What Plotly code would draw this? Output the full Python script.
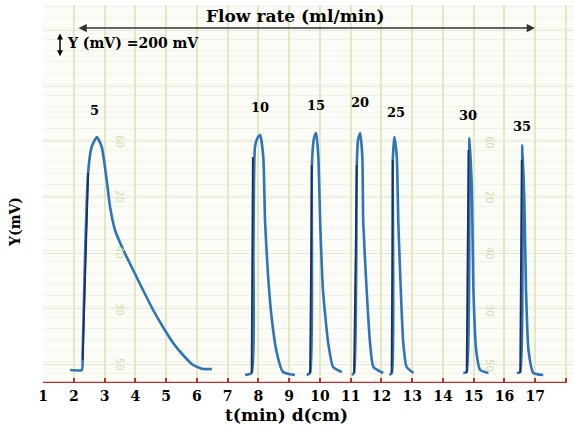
import plotly.graph_objects as go

# time axis (min) / chart distance (cm)
x_ticks = list(range(1, 19))

t_5 = [1.88, 2.26, 2.29, 2.37, 2.46, 2.58, 2.75, 2.91, 3.07, 3.18, 3.34, 3.61,
       3.93, 4.25, 4.58, 4.90, 5.23, 5.55, 5.88, 6.20, 6.49]
y_5 = [27, 27, 180, 1080, 1782, 2034, 2124, 2034, 1737, 1494, 1287, 1107,
       927, 747, 567, 414, 270, 162, 72, 36, 36]

t_10 = [7.57, 7.78, 7.84, 7.89, 7.99, 8.06, 8.16, 8.22, 8.31, 8.43, 8.60, 8.80, 9.19]
y_10 = [-18, 0, 1107, 2034, 2124, 2142, 1944, 1350, 900, 504, 180, 9, -18]

t_15 = [9.57, 9.68, 9.74, 9.81, 9.88, 9.95, 10.01, 10.10, 10.27, 10.43, 10.71]
y_15 = [-18, 0, 1872, 2115, 2160, 1944, 1350, 747, 270, 54, 9]

t_20 = [11.04, 11.11, 11.20, 11.24, 11.31, 11.38, 11.41, 11.52, 11.63, 11.74, 12.06]
y_20 = [-18, 0, 1872, 2097, 2160, 1944, 1350, 747, 270, 54, 0]

t_25 = [12.26, 12.34, 12.37, 12.42, 12.50, 12.55, 12.63, 12.71, 12.82, 13.04]
y_25 = [-18, 0, 1917, 2124, 1944, 1350, 747, 270, 54, 0]

t_30 = [14.66, 14.77, 14.86, 14.94, 14.99, 15.08, 15.21, 15.48]
y_30 = [0, 9, 2115, 1647, 747, 207, 27, 0]

t_35 = [16.40, 16.51, 16.58, 16.65, 16.70, 16.78, 16.94, 17.26]
y_35 = [0, 9, 2052, 1494, 747, 207, 0, -18]

# dark pen strokes on the rising edges
edge_t = [2.29, 2.47, None, 7.78, 7.82, None, 9.68, 9.74, None, 11.11, 11.20, None,
          12.33, 12.37, None, 14.77, 14.83, None, 16.51, 16.56]
edge_y = [117, 1800, None, 0, 1944, None, 0, 1872, None, 0, 1872, None,
          0, 1917, None, 0, 2007, None, 0, 1917]

# flow rate labels (ml/min) above each peak
flow_rates = ["5", "10", "15", "20", "25", "30", "35"]
label_t = [2.69, 8.05, 9.87, 11.31, 12.48, 14.82, 16.57]
label_y = [2367, 2394, 2412, 2439, 2349, 2322, 2223]

# faint printed numbers on the recorder paper
paper_marks = ["60", "20", "40", "30", "50"]
paper_mark_y = [2079, 1584, 1080, 567, 72]
paper_mark_t = [3.50, 15.53]

FONT = "DejaVu Serif"
BLUE = "#2f74b8"
NAVY = "#1b2f5e"
RED = "#c0302a"

fig = go.Figure()

peaks = [(t_5, y_5), (t_10, y_10), (t_15, y_15), (t_20, y_20),
         (t_25, y_25), (t_30, y_30), (t_35, y_35)]
for t, y in peaks:
    fig.add_trace(go.Scatter(x=t, y=y, mode="lines",
                             line=dict(color=BLUE, width=2.6, shape="spline", smoothing=0.5),
                             hoverinfo="skip"))

fig.add_trace(go.Scatter(x=edge_t, y=edge_y, mode="lines",
                         line=dict(color=NAVY, width=1.8), hoverinfo="skip"))

# red time axis, from first to last tick
fig.add_trace(go.Scatter(x=[x_ticks[0], x_ticks[-1]], y=[-90, -90], mode="lines",
                         line=dict(color=RED, width=2.5), hoverinfo="skip", cliponaxis=False))

for lab, t, y in zip(flow_rates, label_t, label_y):
    fig.add_annotation(x=t, y=y, text=lab, showarrow=False,
                       font=dict(family=FONT, size=13, color="black", weight="bold"))

for pt in paper_mark_t:
    for lab, y in zip(paper_marks, paper_mark_y):
        fig.add_annotation(x=pt, y=y, text=lab, showarrow=False, textangle=90,
                           font=dict(family="DejaVu Sans", size=10, color="#d6ddb0"))

# flow rate double arrow and heading
fig.add_annotation(x=16.99, y=3105, ax=2.105, ay=3105, axref="x", ayref="y",
                   text="", showarrow=True, arrowside="end+start", arrowhead=2,
                   arrowsize=1.1, arrowwidth=1.5, arrowcolor="#333333")
fig.add_annotation(xref="paper", yref="paper", x=0.4746, y=0.971,
                   xanchor="center", yanchor="middle",
                   text="Flow rate (ml/min)", showarrow=False,
                   font=dict(family=FONT, size=17, color="black", weight="bold"))

# scale marker
fig.add_annotation(x=1.553, y=2850, ax=1.553, ay=3070, axref="x", ayref="y",
                   text="", showarrow=True, arrowside="end+start", arrowhead=2,
                   arrowsize=0.8, arrowwidth=1.5, arrowcolor="black")
fig.add_annotation(x=1.72, y=2970, text="Y (mV) =200 mV", showarrow=False,
                   xanchor="left", yanchor="middle",
                   font=dict(family=FONT, size=14, color="black", weight="bold"))

# axis titles
fig.add_annotation(xref="paper", yref="paper", x=0.4595, y=-0.0847,
                   xanchor="center", yanchor="middle",
                   text="t(min) d(cm)", showarrow=False,
                   font=dict(family=FONT, size=17, color="black", weight="bold"))
fig.add_annotation(xref="paper", yref="paper", x=-0.0527, y=0.426,
                   xanchor="center", yanchor="middle",
                   text="Y(mV)", showarrow=False, textangle=-90,
                   font=dict(family=FONT, size=14, color="black", weight="bold"))

fig.update_xaxes(range=[1, 18.26], tickvals=x_ticks, ticks="inside", ticklen=5,
                 tickwidth=2, tickcolor=RED, ticklabelstandoff=3,
                 tickfont=dict(family=FONT, size=14, color="black", weight="bold"),
                 showgrid=True, gridcolor="#e2e9c2", gridwidth=1.5,
                 showline=False, zeroline=False)
fig.update_yaxes(range=[-90, 3312], tick0=80, dtick=500, showticklabels=False,
                 showgrid=True, gridcolor="#e3e7d6", gridwidth=1,
                 minor=dict(dtick=100, showgrid=True, gridcolor="#f0f2ea", gridwidth=1),
                 showline=False, zeroline=False)
fig.update_layout(width=574, height=427, showlegend=False,
                  margin=dict(l=43, r=0, t=5, b=44),
                  plot_bgcolor="#fcfcf7", paper_bgcolor="white")

# drop the browser's default page margin so the figure sits at the window corner
fig.write_html("out.html", config={"displayModeBar": False},
               post_script="document.body.style.margin='0';")
